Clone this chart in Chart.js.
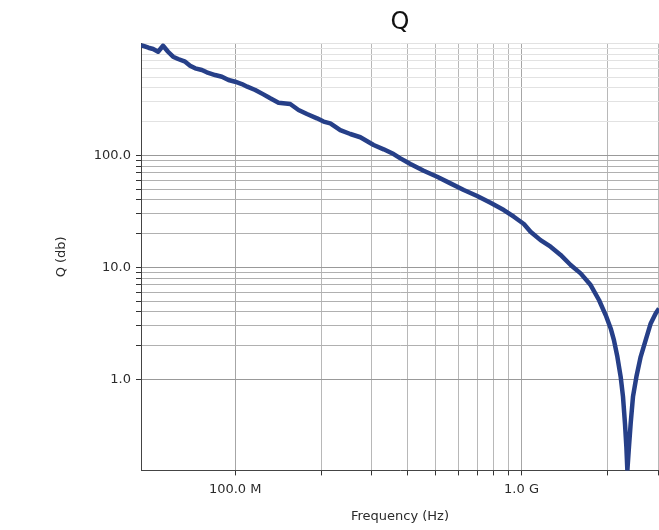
<!DOCTYPE html>
<html>
<head>
<meta charset="utf-8">
<script src="https://cdn.jsdelivr.net/npm/chart.js@4.4.1/dist/chart.umd.min.js"></script>
<style>
  html, body { margin: 0; padding: 0; background: #fff; }
  #wrap { width: 659px; height: 530px; }
</style>
</head>
<body>
<div id="wrap"><canvas id="chart"></canvas></div>
<script>
// frequency (Hz) and Q
const freqs = [
  46.9e6, 49.8e6, 51.7e6, 53.8e6, 56.0e6, 58.3e6, 60.7e6, 63.2e6, 66.9e6, 69.6e6,
  72.5e6, 76.5e6, 79.6e6, 85.1e6, 89.9e6, 94.8e6, 100e6, 105.5e6, 110.2e6, 117.5e6,
  125.5e6, 132.6e6, 141.7e6, 155.7e6, 166.4e6, 178.1e6, 193.1e6, 203.6e6, 214.9e6, 232.8e6,
  252.4e6, 273.6e6, 304.4e6, 330.0e6, 357.6e6, 377.6e6, 409.2e6, 455.3e6, 507.3e6, 564.6e6,
  628.4e6, 699.9e6, 779.1e6, 867.1e6, 940.0e6, 1.019e9, 1.075e9, 1.165e9, 1.263e9, 1.369e9,
  1.484e9, 1.608e9, 1.743e9, 1.864e9, 1.967e9, 2.048e9, 2.102e9, 2.161e9, 2.219e9, 2.261e9,
  2.297e9, 2.323e9, 2.342e9, 2.372e9, 2.405e9, 2.450e9, 2.518e9, 2.606e9, 2.713e9, 2.825e9,
  2.940e9, 3.020e9
];
const qValues = [
  966, 913, 889, 841, 952, 841, 759, 724, 685, 631,
  598, 578, 551, 521, 503, 470, 454, 433, 410, 383,
  350, 323, 295, 287, 254, 234, 214, 200, 193, 168,
  155, 145, 123.6, 113.1, 102.7, 94.0, 83.6, 72.9, 64.4, 56.2,
  49.0, 43.3, 37.7, 32.5, 28.3, 24.4, 20.8, 17.5, 15.3, 12.9,
  10.5, 8.84, 6.95, 5.11, 3.75, 2.85, 2.24, 1.59, 1.055, 0.70,
  0.405, 0.25, 0.154, 0.25, 0.405, 0.70, 1.055, 1.59, 2.24, 3.16,
  3.88, 4.30
];

// tick positions
const xTicks = [1e8, 2e8, 3e8, 4e8, 5e8, 6e8, 7e8, 8e8, 9e8, 1e9, 2e9, 3e9];
const xLabels = { 1e8: '100.0 M', 1e9: '1.0 G' };
const yTicks = [1, 2, 3, 4, 5, 6, 7, 8, 9, 10, 20, 30, 40, 50, 60, 70, 80, 90,
                100, 200, 300, 400, 500, 600, 700, 800, 900, 1000];
const yLabels = { 1: '1.0', 10: '10.0', 100: '100.0' };

const FONT = 'DejaVu Sans';
const TEXT = '#2b2b2b';

const points = freqs.map((f, i) => ({ x: f, y: qValues[i] }));

new Chart(document.getElementById('chart'), {
    type: 'line',
    data: {
        datasets: [{
            label: 'Q',
            data: points,
            borderColor: '#263f88',
            borderWidth: 4.5,
            pointRadius: 0,
            tension: 0,
            fill: false,
            borderJoinStyle: 'round'
        }]
    },
    options: {
        responsive: true,
        maintainAspectRatio: false,
        animation: false,
        layout: { padding: 0 },
        plugins: {
            legend: { display: false },
            tooltip: { enabled: false },
            title: {
                display: true,
                fullSize: false,
                text: 'Q',
                color: '#111',
                font: { family: FONT, size: 24, weight: 'normal' },
                padding: { top: 8, bottom: 6.5 }
            }
        },
        scales: {
            x: {
                type: 'logarithmic',
                min: 46.9e6,
                max: 3.02e9,
                afterBuildTicks: axis => { axis.ticks = xTicks.map(v => ({ value: v })); },
                afterFit: axis => {
                    axis.height = 59.6;
                    axis.paddingLeft = 0;
                    axis.paddingRight = 0;
                },
                ticks: {
                    autoSkip: false,
                    maxRotation: 0,
                    padding: 6,
                    color: TEXT,
                    font: { family: FONT, size: 13 },
                    callback: v => xLabels[v] || ''
                },
                grid: {
                    color: ctx => (ctx.tick && [1e8, 1e9].includes(ctx.tick.value)) ? '#a6a6a6' : '#b8b8b8',
                    tickColor: '#333',
                    tickLength: 5
                },
                border: { color: '#444', width: 1 },
                title: {
                    display: true,
                    text: 'Frequency (Hz)',
                    color: TEXT,
                    font: { family: FONT, size: 13 },
                    padding: { top: 0, bottom: 6 }
                }
            },
            y: {
                type: 'logarithmic',
                min: 0.154,
                max: 1000,
                afterBuildTicks: axis => { axis.ticks = yTicks.map(v => ({ value: v })); },
                afterFit: axis => {
                    axis.width = 141;
                    axis.paddingTop = 0;
                    axis.paddingBottom = 0;
                },
                ticks: {
                    autoSkip: false,
                    padding: 5,
                    color: TEXT,
                    font: { family: FONT, size: 13 },
                    callback: v => yLabels[v] || ''
                },
                grid: {
                    color: ctx => {
                        const v = ctx.tick ? ctx.tick.value : 0;
                        if (v > 100) return '#e2e2e2';
                        if (v === 1 || v === 10 || v === 100) return '#999999';
                        return '#b0b0b0';
                    },
                    tickColor: ctx => (ctx.tick && ctx.tick.value > 100) ? 'rgba(0,0,0,0)' : '#333',
                    tickLength: 5
                },
                border: { color: '#444', width: 1 },
                title: {
                    display: true,
                    text: 'Q (db)',
                    color: TEXT,
                    font: { family: FONT, size: 13 },
                    padding: { top: 54, bottom: 0 }
                }
            }
        }
    }
});
</script>
</body>
</html>
